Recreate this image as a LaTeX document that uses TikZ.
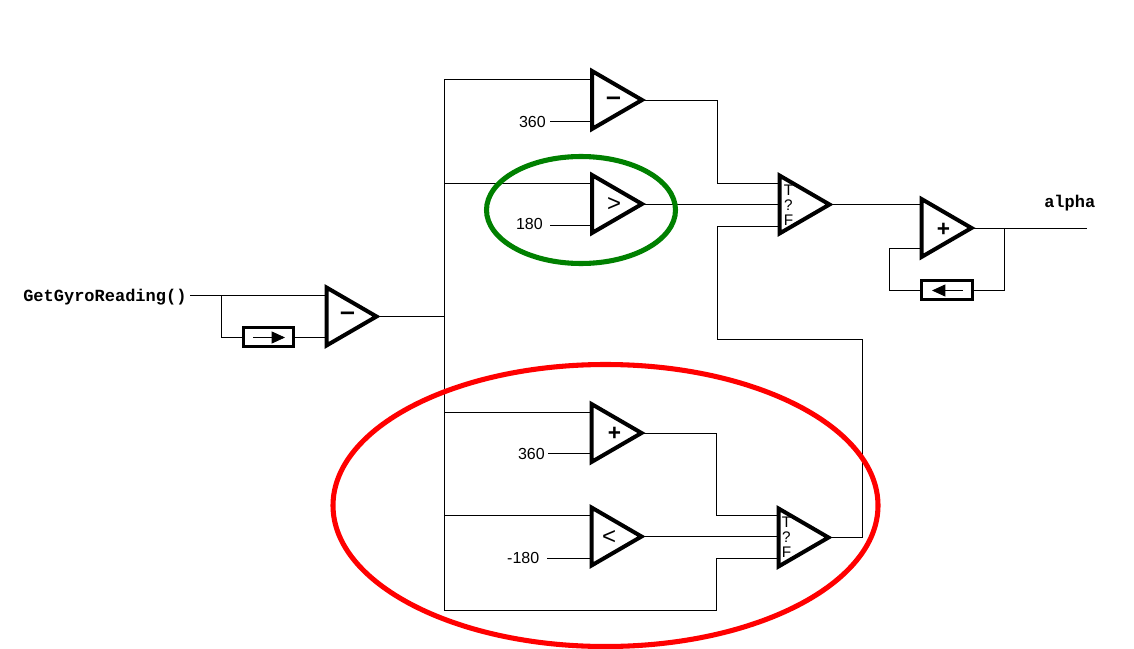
\documentclass[tikz,border=0pt]{standalone}
\usepackage{fontspec}
\setmainfont{Liberation Sans}
\setmonofont{Liberation Mono}
\usetikzlibrary{shapes.geometric,arrows.meta}

\tikzset{
    amp/.style={draw, line width=3pt, line join=miter, isosceles triangle, isosceles triangle stretches,
        minimum width=43.5pt, minimum height=37.5pt, inner sep=0pt, outer sep=0pt, anchor=apex},
    delay/.style={draw, line width=2.4pt, rectangle, minimum width=38pt, minimum height=14.5pt, inner sep=0pt, outer sep=0pt},
    wire/.style={line width=0.6pt, line join=miter},
    tip/.style={line width=0.6pt, -{Triangle[length=10pt,width=9pt]}},
    value/.style={font=\fontsize{12}{12}\selectfont, anchor=east, inner sep=0pt},
    signal/.style={font=\ttfamily\bfseries\fontsize{12.75}{13}\selectfont, inner sep=0pt},
    plussign/.style={font=\bfseries\fontsize{17}{17}\selectfont, inner sep=0pt},
    minussign/.style={font=\bfseries\fontsize{20}{20}\selectfont, inner sep=0pt},
    cmp/.style={font=\fontsize{18}{18}\selectfont, inner sep=0pt},
    tf/.style={font=\fontsize{11.5}{11.4}\selectfont, align=center, inner sep=0pt}
}

\begin{document}
\begin{tikzpicture}[x=0.75pt,y=-0.75pt]

    \useasboundingbox (0,0) rectangle (1134,649);

    % Draw the amplifier triangles
    \node[amp] (sub) at (376.5,316.5) {};
    \node[amp] (minus) at (642,100) {};
    \node[amp] (gt) at (642,204) {};
    \node[amp] (plus) at (641.5,433) {};
    \node[amp] (lt) at (641.5,536.5) {};
    \node[amp] (condA) at (829.5,204.5) {};
    \node[amp] (condB) at (828.5,537.5) {};
    \node[amp] (acc) at (971.5,228) {};

    % Signs inside the triangles
    \node[minussign] (subSign) at (347.5,316) {--};
    \node[minussign] (minusSign) at (613.5,101) {--};
    \node[cmp] (gtSign) at (614,204.5) {>};
    \node[plussign] (plusSign) at (614.5,434) {+};
    \node[cmp] (ltSign) at (609,537) {<};
    \node[plussign] (accSign) at (943.5,229.5) {+};
    \node[tf] (condAText) at (788.5,205) {T\\?\\F};
    \node[tf] (condBText) at (786.5,537.5) {T\\?\\F};

    % Delay boxes
    \node[delay] (delayIn) at (268.5,337) {};
    \node[delay] (delayOut) at (947,290) {};

    % Labels
    \node[signal, anchor=west] (gyro) at (23,297) {GetGyroReading()};
    \node[signal, anchor=west] (alpha) at (1044,203) {alpha};
    \node[value] (minusVal) at (546,122) {360};
    \node[value] (gtVal) at (543,223.5) {180};
    \node[value] (plusVal) at (545,454) {360};
    \node[value] (ltVal) at (539.5,558) {-180};

    % Junction points on the wires
    \coordinate (gyroEnd) at (190,295);
    \coordinate (gyroJoin) at (221,295);
    \coordinate (subA) at (326,295);
    \coordinate (subB) at (326,337);
    \coordinate (busTop) at (444.5,79);
    \coordinate (busSub) at (444.5,316.5);
    \coordinate (busBottom) at (444.5,610);
    \coordinate (minusA) at (591,79);
    \coordinate (minusB) at (591,121);
    \coordinate (gtA) at (591,183);
    \coordinate (gtB) at (591,225);
    \coordinate (plusA) at (591,412);
    \coordinate (plusB) at (591,453);
    \coordinate (ltA) at (591,515);
    \coordinate (ltB) at (591,558);
    \coordinate (condAT) at (779,183);
    \coordinate (condAF) at (779,226);
    \coordinate (condBT) at (777,515);
    \coordinate (condBF) at (777,558);
    \coordinate (accA) at (921,204.5);
    \coordinate (accB) at (921,248);
    \coordinate (alphaEnd) at (1087,228);

    % Input stage
    \draw[wire] (gyroEnd) -- (subA);
    \draw[wire] (gyroJoin) |- (delayIn.west);
    \draw[wire] (delayIn.east) -- (subB);
    \draw[wire] (sub.apex) -- (busSub);

    % Bus and the branches from it
    \draw[wire] (minusA) -- (busTop) -- (busBottom) -| (716,590) |- (condBF);
    \draw[wire] (busTop |- gtA) -- (gtA);
    \draw[wire] (busTop |- plusA) -- (plusA);
    \draw[wire] (busTop |- ltA) -- (ltA);

    % Constants
    \draw[wire] (550,121) -- (minusB);
    \draw[wire] (550,225) -- (gtB);
    \draw[wire] (548,453) -- (plusB);
    \draw[wire] (547,558) -- (ltB);

    % Outputs towards the two selectors
    \draw[wire] (minus.apex) -| (717,140) |- (condAT);
    \draw[wire] (gt.apex) -- (condA.west |- gt.apex);
    \draw[wire] (plus.apex) -| (716,480) |- (condBT);
    \draw[wire] (lt.apex) -- (condB.west |- lt.apex);
    \draw[wire] (condB.apex) -| (862,339) -| (717,280) |- (condAF);

    % Accumulator with its feedback
    \draw[wire] (condA.apex) -- (accA);
    \draw[wire] (acc.apex) -- (alphaEnd);
    \draw[wire] (1004,228) |- (delayOut.east);
    \draw[wire] (delayOut.west) -| (889,270) |- (accB);

    % Arrows inside the delay boxes
    \draw[tip] (253,337.5) -- (285,337.5);
    \draw[tip] (963,290.5) -- (932,290.5);

    % Highlight ellipses
    \draw[line width=3.8pt, color={rgb,255:red,0;green,128;blue,0}] (581,210) ellipse [x radius=94.5, y radius=53.5];
    \draw[line width=3.8pt, color=red] (605.5,505.5) ellipse [x radius=272.5, y radius=141];

\end{tikzpicture}
\end{document}
